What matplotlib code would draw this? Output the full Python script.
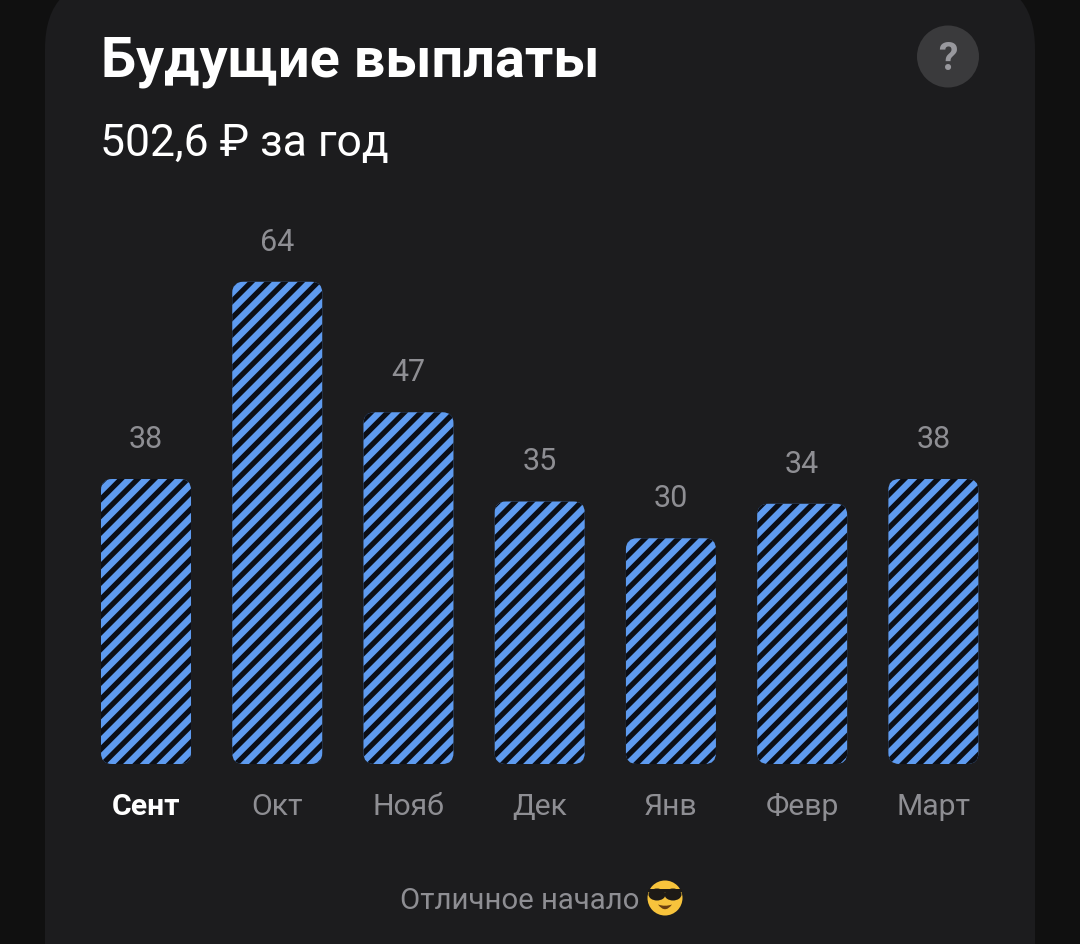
import matplotlib
matplotlib.use("Agg")
import matplotlib.pyplot as plt
from matplotlib.patches import FancyBboxPatch, Circle, Ellipse, Polygon, PathPatch
from matplotlib.path import Path

months = ["Сент", "Окт", "Нояб", "Дек", "Янв", "Февр", "Март"]
value_labels = ["38", "64", "47", "35", "30", "34", "38"]
bar_heights = [38.0, 64.3, 46.9, 35.0, 30.1, 34.7, 38.0]
title = "Будущие выплаты"
subtitle = "502,6 ₽ за год"
footer = "Отличное начало"

FONT = ["Roboto", "DejaVu Sans"]
plt.rcParams["font.family"] = FONT
plt.rcParams["hatch.linewidth"] = 3.8

OUTER = "#101010"
CARD = "#1c1c1e"
BLUE = "#5e9bf0"
DARK = "#0b0e16"
GREY = "#8e8e93"

fig = plt.figure(figsize=(10.8, 9.45), dpi=100, facecolor=OUTER)

# pixel-coordinate layer for the card and its furniture
bg = fig.add_axes([0, 0, 1, 1], zorder=0)
bg.set_xlim(0, 1080)
bg.set_ylim(945, 0)
bg.axis("off")
bg.add_patch(FancyBboxPatch((45, -20), 990, 1100,
                            boxstyle="round,pad=0,rounding_size=70",
                            fc=CARD, ec="none"))
bg.text(101, 76, title, color="white", fontsize=40.2, fontweight="bold", va="baseline")
bg.text(100.5, 156, subtitle, color="white", fontsize=32, va="baseline")
bg.add_patch(Circle((948, 57.5), 31, fc="#3a3a3c", ec="none"))
bg.text(947.5, 59, "?", color="#98989d", fontsize=28, fontweight="bold",
        ha="center", va="center")
bg.text(519.5, 909, footer, color=GREY, fontsize=21.2, ha="center", va="baseline")

# emoji drawn as shapes (colour emoji font unavailable)
bg.add_patch(Circle((665, 899), 17.5, fc="#f7c33c", ec="none"))
bg.add_patch(Polygon([(648, 890), (682, 890), (682, 893), (648, 893)], fc="#1d1a16", ec="none"))
bg.add_patch(Ellipse((657, 895.5), 17, 12, fc="#1d1a16", ec="none"))
bg.add_patch(Ellipse((673, 895.5), 17, 12, fc="#1d1a16", ec="none"))
bg.add_patch(PathPatch(Path([(658, 905.5), (665, 915), (672, 905.5), (665, 908), (658, 905.5)],
                            [Path.MOVETO, Path.CURVE3, Path.CURVE3, Path.CURVE3, Path.CURVE3]),
                       fc="#6b3f10", ec="none"))

# chart axes
PX_X0, PX_X1 = 80.4, 999.0
PX_TOP, PX_BASE = 200.0, 765.0
UNIT_PX = 7.5
STEP_PX = 131.2
ax = fig.add_axes([PX_X0 / 1080, 1 - PX_BASE / 945,
                   (PX_X1 - PX_X0) / 1080, (PX_BASE - PX_TOP) / 945], zorder=1)
ax.patch.set_alpha(0)
ax.set_xlim(-0.5, 6.5)
ax.set_ylim(0, (PX_BASE - PX_TOP) / UNIT_PX)
for s in ax.spines.values():
    s.set_visible(False)
ax.set_yticks([])
ax.set_xticks(range(len(months)))
ax.set_xticklabels(months, fontsize=21.7, color=GREY)
ax.tick_params(axis="x", length=0, pad=20.5)
lab0 = ax.get_xticklabels()[0]
lab0.set_color("white")
lab0.set_fontweight("bold")

width = 90 / STEP_PX
for i, (h, lab) in enumerate(zip(bar_heights, value_labels)):
    ax.add_patch(FancyBboxPatch((i - width / 2, 0), width, h,
                                boxstyle=f"round,pad=0,rounding_size={11 / STEP_PX}",
                                mutation_aspect=STEP_PX / UNIT_PX,
                                fc=BLUE, ec=DARK, lw=0, hatch="//"))
    ax.annotate(lab, (i, h), xytext=(0, 23.2), textcoords="offset points",
                ha="center", va="baseline", color=GREY, fontsize=22)

fig.savefig("out.png", dpi=100, facecolor=OUTER)
